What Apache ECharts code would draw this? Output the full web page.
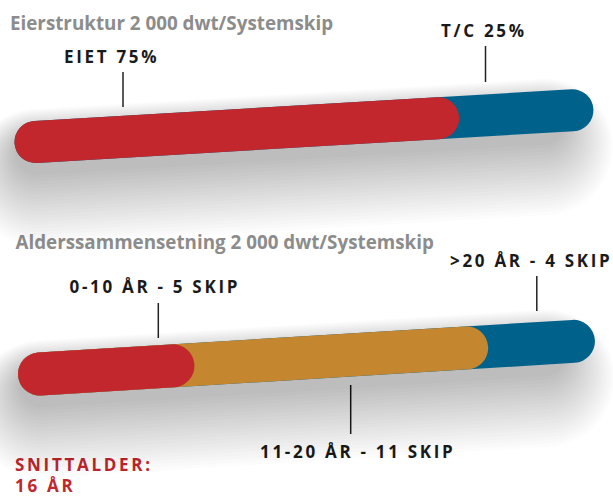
<!DOCTYPE html>
<html>
<head>
<meta charset="utf-8">
<script src="https://cdn.jsdelivr.net/npm/echarts@6/dist/echarts.min.js"></script>
<style>
html,body{margin:0;padding:0;background:#fff;}
#chart{width:613px;height:496px;}
#chart svg text[style*="bold"]{letter-spacing:2.7px;}
</style>
</head>
<body>
<div id="chart"></div>
<script>
// ---- data ----
const ownershipTitle = 'Eierstruktur 2 000 dwt/Systemskip';
const ownershipLabels = ['EIET 75%', 'T/C 25%'];
const ownershipShares = [75, 25];
const ownershipColors = ['#c1272d', '#00628b'];

const ageTitle = 'Alderssammensetning 2 000 dwt/Systemskip';
const ageLabels = ['0-10 ÅR - 5 SKIP', '11-20 ÅR - 11 SKIP', '>20 ÅR - 4 SKIP'];
const ageCounts = [5, 11, 4];
const ageColors = ['#c1272d', '#c4862f', '#00628b'];

const averageLabel = ['SNITTALDER:', '16 ÅR'];

// ---- helpers ----
function cumulative(vals) {
  let s = 0;
  return vals.map(v => (s += v));
}
function stackedItems(vals, colors) {
  const cum = cumulative(vals);
  const items = cum.map((c, i) => ({ value: [c, 0], itemStyle: { color: colors[i] } }));
  return items.reverse(); // longest first, so shorter pills lie on top
}

function makeRender(angle, thick) {
  return function (params, api) {
    const end = api.value(0);
    const p0 = api.coord([0, 0]);
    const p1 = api.coord([end, 0]);
    const len = p1[0] - p0[0];
    const color = api.visual('color');
    const children = [];
    if (params.dataIndex === 0) {
      // soft shadow under the whole bar
      for (let k = 0; k < 22; k++) {
        children.push({
          type: 'line',
          shape: { x1: 0, y1: 12 + k * 1.1, x2: len - 30, y2: 12 + k * 1.1 },
          style: { stroke: 'rgba(0,0,0,0.012)', lineWidth: thick + k * 4.5, lineCap: 'round' },
          silent: true
        });
      }
    }
    children.push({
      type: 'line',
      shape: { x1: 0, y1: 0, x2: len, y2: 0 },
      style: { stroke: color, lineWidth: thick, lineCap: 'round' }
    });
    return { type: 'group', x: p0[0], y: p0[1], rotation: angle, children: children };
  };
}

const total1 = ownershipShares.reduce((a, b) => a + b, 0);
const total2 = ageCounts.reduce((a, b) => a + b, 0);

const labelFont = { fontFamily: 'Open Sans', fontWeight: 'bold', fontSize: 17, fill: '#1a1a1a' };
const titleFont = { fontFamily: 'Open Sans', fontWeight: 700, fontSize: 18.8, fill: '#8c8c8c' };
const averageFont = Object.assign({}, labelFont, { fill: '#c1272d', lineHeight: 21 });

function txt(text, x, y, style) {
  return { type: 'text', x: x, y: y, style: Object.assign({ text: text, align: 'left', verticalAlign: 'middle' }, style) };
}
function leader(x, y1, y2) {
  return { type: 'line', shape: { x1: x, y1: y1, x2: x, y2: y2 }, style: { stroke: '#222', lineWidth: 1.5 } };
}

const chart = echarts.init(document.getElementById('chart'), null, { renderer: 'svg' });
chart.setOption({
  animation: false,
  grid: [
    { left: 35.5, top: 121, width: 538, height: 42 },
    { left: 39.5, top: 352.5, width: 535, height: 43 }
  ],
  xAxis: [
    { type: 'value', gridIndex: 0, min: 0, max: total1, show: false },
    { type: 'value', gridIndex: 1, min: 0, max: total2, show: false }
  ],
  yAxis: [
    { type: 'category', gridIndex: 0, data: ['eier'], show: false },
    { type: 'category', gridIndex: 1, data: ['alder'], show: false }
  ],
  series: [
    {
      type: 'custom', xAxisIndex: 0, yAxisIndex: 0,
      renderItem: makeRender(Math.atan2(32, 537), 42),
      data: stackedItems(ownershipShares, ownershipColors)
    },
    {
      type: 'custom', xAxisIndex: 1, yAxisIndex: 1,
      renderItem: makeRender(Math.atan2(32.5, 534), 43),
      data: stackedItems(ageCounts, ageColors)
    }
  ],
  graphic: [
    txt(ownershipTitle, 10, 22.5, titleFont),
    txt(ownershipLabels[1], 441, 30, labelFont),
    txt(ownershipLabels[0], 64, 56, labelFont),
    leader(123, 72, 107),
    leader(485.5, 46, 82),
    txt(ageTitle, 15.5, 241.5, titleFont),
    txt(ageLabels[2], 450, 260, labelFont),
    txt(ageLabels[0], 69.5, 286, labelFont),
    txt(ageLabels[1], 260, 451.5, labelFont),
    leader(158.3, 303, 338),
    leader(536.8, 276, 311),
    leader(350.7, 385, 434),
    txt(averageLabel.join('\n'), 15, 474.5, averageFont)
  ]
});
</script>
</body>
</html>
